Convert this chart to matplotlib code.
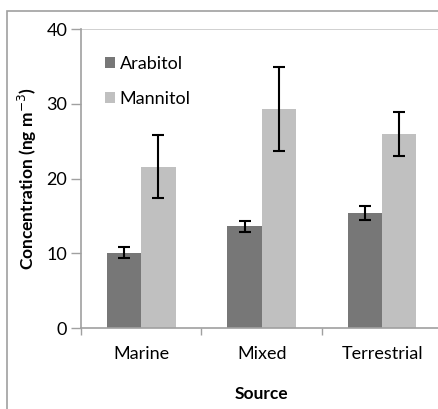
import numpy as np
import matplotlib
matplotlib.use("Agg")
import matplotlib.pyplot as plt
from matplotlib.patches import Rectangle

plt.rcParams['font.family'] = ['Lato', 'DejaVu Sans']

sources = ["Marine", "Mixed", "Terrestrial"]
arabitol = [10.1, 13.6, 15.4]
arabitol_err = [0.7, 0.7, 0.95]
mannitol = [21.6, 29.3, 25.9]
mannitol_err = [4.2, 5.65, 2.95]

fig = plt.figure(figsize=(4.38, 4.09), dpi=100)
ax = fig.add_axes([0.185, 0.198, 0.825, 0.731])

x = np.arange(len(sources)) + 0.5
w = 0.285
ekw = dict(ecolor="black", elinewidth=1.5, capsize=4.5, capthick=1.5)
ax.bar(x - w / 2, arabitol, w, yerr=arabitol_err, color="#777777", label="Arabitol", error_kw=ekw, zorder=2)
ax.bar(x + w / 2, mannitol, w, yerr=mannitol_err, color="#c0c0c0", label="Mannitol", error_kw=ekw, zorder=2)

ax.set_xlim(0, 3)
ax.set_ylim(0, 40)
ax.set_yticks([0, 10, 20, 30, 40])
ax.set_xticks([0, 1, 2, 3])
ax.set_xticklabels([])
ax.set_xticks(x, minor=True)
ax.set_xticklabels(sources, minor=True)
ax.tick_params(axis="x", which="minor", length=0, labelsize=13, pad=13)
ax.tick_params(axis="x", which="major", length=5, color="#a0a0a0", width=1)
ax.tick_params(axis="y", length=7, color="#a0a0a0", width=1, labelsize=13, pad=3)
ax.axhline(40, color="#c8c8c8", lw=1.2, zorder=1)

for s in ["top", "right"]:
    ax.spines[s].set_visible(False)
for s in ["left", "bottom"]:
    ax.spines[s].set_color("#a0a0a0")
    ax.spines[s].set_linewidth(1.2)

ax.set_ylabel("Concentration (ng m$^{-3}$)", fontsize=12.5, fontweight="bold", labelpad=5)
ax.set_xlabel("Source", fontsize=12.5, fontweight="bold", labelpad=17)

ax.legend(loc="upper left", bbox_to_anchor=(0.02, 0.965), frameon=False, fontsize=13,
          handlelength=0.6, handleheight=0.6, handletextpad=0.25, labelspacing=1.05)

fig.patches.append(Rectangle((7 / 438, -0.1), 1.2, 1 - 10.5 / 409 + 0.1, transform=fig.transFigure,
                             fill=False, edgecolor="#a0a0a0", lw=1.2))

fig.savefig("out.png", dpi=100)
